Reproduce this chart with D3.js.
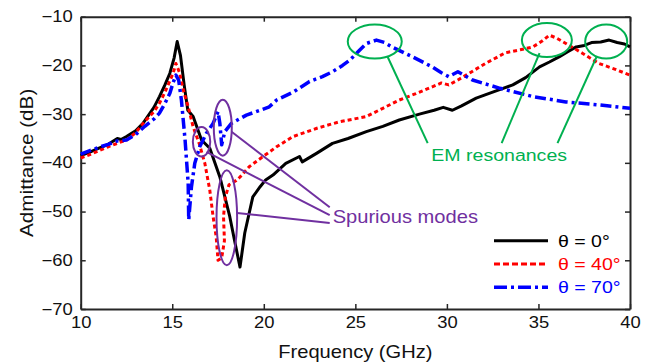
<!DOCTYPE html>
<html>
<head>
<meta charset="utf-8">
<script src="https://cdnjs.cloudflare.com/ajax/libs/d3/7.8.5/d3.min.js"></script>
<style>
  body { margin: 0; background: #fff; }
  svg { display: block; font-family: "Liberation Sans", Arial, sans-serif; }
</style>
</head>
<body>
<div id="chart"></div>
<script>
// --- data (frequency in GHz, admittance in dB) ---
var f0 = [10, 10.5, 11, 11.5, 12, 12.2, 12.5, 13, 13.4, 14, 14.3, 14.6, 14.87, 15.1, 15.27, 15.45, 15.65, 15.85, 16.14,
          16.6, 17.05, 17.6, 18.14, 18.4, 18.7, 18.96, 19.4, 19.8, 20.1, 20.5, 21.2, 21.95, 22.1, 22.9, 23.75, 24.6, 25.6,
          26.5, 27.4, 28.5, 29.3, 29.8, 30.3, 30.8, 31.6, 32.5, 33.6, 34.3, 35.06, 35.6, 36.15, 36.6, 37.06, 37.5, 37.9,
          38.4, 38.86, 39.3, 39.7, 40];
var a0 = [-38.5, -37.8, -37, -36.2, -35, -35.2, -34.6, -33.4, -31.9, -28.6, -26.4, -24, -21.6, -18.5, -15.1, -18, -24, -29.2, -30.5,
          -35.3, -37, -42.9, -51, -55.9, -61.4, -54.4, -47, -44.9, -43.5, -42.5, -40.1, -38.7, -39.8, -38, -36, -35, -33.6,
          -32.5, -31.2, -30, -29.2, -28.6, -29.2, -28.3, -26.7, -25.5, -24, -22.5, -20.3, -19.3, -18.2, -17.2, -16.2, -15.9, -15.3,
          -15.2, -14.8, -15.3, -15.6, -16.2];

var f40 = [10, 10.5, 11, 11.5, 12, 12.5, 13, 13.5, 14, 14.3, 14.6, 15.05, 15.2, 15.4, 15.6, 15.87, 16.14, 16.47, 16.78, 17.05,
           17.23, 17.4, 17.5, 17.7, 17.85, 17.8, 17.9, 18.1, 18.5, 18.7, 19.2, 19.96, 20.7, 21.6, 22.9, 24.1, 25.6, 26.5, 27.4,
           28.3, 29.2, 29.7, 30.1, 30.6, 31.05, 32.1, 33.2, 34.0, 34.7, 35.2, 35.6, 36.0, 36.5, 37.4, 38.3, 39.2, 40];
var a40 = [-39, -38.3, -37.5, -36.7, -36, -35.3, -33.8, -31.5, -29.5, -27.8, -25.5, -21.6, -19.6, -21.5, -25, -28.5, -32.6, -36, -40.1, -45.6,
           -51, -55.2, -60, -59.5, -56, -51, -47, -44.5, -43.6, -42.9, -40.8, -38.7, -36.7, -34.6, -32.9, -31.6, -30.5, -28.8, -27.1,
           -25.8, -24.4, -23.6, -24, -23, -22, -19.6, -17.4, -16.8, -16.2, -15, -13.8, -14.4, -15.5, -17.5, -19.6, -20.8, -22];

var f70 = [10, 10.5, 11, 11.5, 12, 12.5, 13, 13.5, 14, 14.3, 14.6, 14.87, 15.05, 15.2, 15.35, 15.5, 15.7, 15.87, 15.9, 16.05,
           16.23, 16.5, 16.87, 17.23, 17.5, 17.6, 17.7, 17.87, 18.23, 19.05, 19.8, 20.3, 20.7, 21.6, 22.5, 23.2, 23.75, 24.3,
           24.7, 25.2, 25.6, 26.15, 26.6, 27.0, 28.1, 29.2, 29.7, 30.1, 30.6, 31.4, 32.9, 34.7, 36.5, 38.3, 40];
var a70 = [-38.2, -37.5, -36.8, -36.2, -35.5, -35.3, -34.2, -32.5, -31, -29.8, -27.8, -25.7, -23.5, -22, -23, -27.1, -35.3, -44.2, -51.7, -44.9,
           -40.1, -36.7, -33.9, -31.9, -29.5, -31.9, -36.3, -33.6, -31.9, -30.2, -29.2, -28.5, -27.1, -25.5, -23.3, -22.3, -21.3, -20,
           -18.9, -17, -15.5, -14.8, -15.3, -16.2, -18.2, -20.3, -21.5, -22.3, -21.3, -23, -24.7, -26.4, -27.5, -28.1, -28.8];

var seriesNames = ["\u03b8 = 0\u00b0", "\u03b8 = 40\u00b0", "\u03b8 = 70\u00b0"];
var xTicks = [10, 15, 20, 25, 30, 35, 40];
var yTicks = [-70, -60, -50, -40, -30, -20, -10];

// annotation anchors in data units: [freq, dB]
var emCircles = [[26.06, -15.1], [35.46, -14.8], [38.7, -15.1]];
var emLines = [[[26.76, -18.22], [28.95, -35.95]], [[35.06, -17.46], [32.99, -35.95]], [[38.17, -18.28], [36.04, -35.95]]];
var emLabel = [29.15, -39.6];
var spCircles = [[16.6, -35.68], [17.76, -32.77], [17.98, -51.26]];
var spLines = [[[16.87, -37.74], [23.6, -50.74]], [[18.24, -33.63], [23.6, -49.1]], [[18.54, -50.27], [23.6, -52.33]]];
var spLabel = [23.76, -52.4];

function init() {
    var w = 654, h = 362;
    var sx = 1.15;              // the figure's text is slightly stretched horizontally
    var axisColor = "#262626";
    var green = "#00B050", purple = "#7030A0";

    var svg = d3.select("#chart").append("svg")
        .attr("width", w)
        .attr("height", h);

    var x = d3.scaleLinear().domain([10, 40]).range([80.7, 630]);
    var y = d3.scaleLinear().domain([-70, -10]).range([309, 16.7]);

    // axes (ticks point inwards, box on)
    var gx = svg.append("g").attr("transform", "translate(0," + y(-70) + ")")
        .call(d3.axisBottom(x).tickValues(xTicks).tickSizeInner(-5).tickSizeOuter(0).tickPadding(8));
    var gxt = svg.append("g").attr("transform", "translate(0," + y(-10) + ")")
        .call(d3.axisTop(x).tickValues(xTicks).tickSizeInner(-5).tickSizeOuter(0).tickFormat(""));
    var gy = svg.append("g").attr("transform", "translate(" + x(10) + ",0)")
        .call(d3.axisLeft(y).tickValues(yTicks).tickSizeInner(-5).tickSizeOuter(0).tickPadding(8));
    var gyr = svg.append("g").attr("transform", "translate(" + x(40) + ",0)")
        .call(d3.axisRight(y).tickValues(yTicks).tickSizeInner(-5).tickSizeOuter(0).tickFormat(""));

    [gx, gxt, gy, gyr].forEach(function(g) {
        g.select(".domain").attr("stroke", axisColor).attr("stroke-width", 2);
        g.selectAll(".tick line").attr("stroke", axisColor).attr("stroke-width", 1.5);
        g.selectAll("text").attr("fill", "#111").style("font-size", "16px")
            .style("font-family", "'Liberation Sans', Arial, sans-serif");
    });
    gx.selectAll(".tick text").attr("transform", "scale(" + sx + ",1)");
    gy.selectAll(".tick text").attr("x", -8 / sx).attr("transform", "scale(" + sx + ",1)");

    // axis titles
    svg.append("text")
        .attr("transform", "translate(" + (x(10) + x(40)) / 2 + ",358) scale(" + sx + ",1)")
        .attr("text-anchor", "middle")
        .style("font-size", "17.5px")
        .attr("fill", "#111")
        .text("Frequency (GHz)");
    svg.append("text")
        .attr("transform", "translate(33," + (y(-10) + y(-70)) / 2 + ") rotate(-90) scale(" + sx + ",1)")
        .attr("text-anchor", "middle")
        .style("font-size", "18px")
        .attr("fill", "#111")
        .text("Admittance (dB)");

    // curves
    var line = d3.line().x(function(d) { return x(d[0]); }).y(function(d) { return y(d[1]); });
    var styles = [
        { color: "#000000", width: 3, dash: null, legendDash: null },
        { color: "#FF0000", width: 3, dash: "4,3", legendDash: "6,3" },
        { color: "#0000FF", width: 3.5, dash: "11,4,3,4", legendDash: "13,4,3,4" }
    ];
    var series = [d3.zip(f0, a0), d3.zip(f40, a40), d3.zip(f70, a70)];

    // draw blue first, then red, then black on top? reference shows red/blue over black
    [0, 1, 2].forEach(function(i) {
        svg.append("path")
            .datum(series[i])
            .attr("d", line)
            .attr("fill", "none")
            .attr("stroke", styles[i].color)
            .attr("stroke-width", styles[i].width)
            .attr("stroke-linejoin", "round")
            .attr("stroke-dasharray", styles[i].dash);
    });

    // EM resonance annotations
    svg.selectAll(".em-circle").data(emCircles).enter().append("ellipse")
        .attr("cx", function(d) { return x(d[0]); })
        .attr("cy", function(d) { return y(d[1]); })
        .attr("rx", function(d, i) { return [27, 25, 21][i]; })
        .attr("ry", 17)
        .attr("fill", "none").attr("stroke", green).attr("stroke-width", 2);
    svg.selectAll(".em-line").data(emLines).enter().append("line")
        .attr("x1", function(d) { return x(d[0][0]); }).attr("y1", function(d) { return y(d[0][1]); })
        .attr("x2", function(d) { return x(d[1][0]); }).attr("y2", function(d) { return y(d[1][1]); })
        .attr("stroke", green).attr("stroke-width", 2);
    svg.append("text")
        .attr("transform", "translate(" + x(emLabel[0]) + "," + y(emLabel[1]) + ") scale(" + sx + ",1)")
        .style("font-size", "17px")
        .attr("fill", green)
        .text("EM resonances");

    // spurious mode annotations
    svg.selectAll(".sp-circle").data(spCircles).enter().append("ellipse")
        .attr("cx", function(d) { return x(d[0]); })
        .attr("cy", function(d) { return y(d[1]); })
        .attr("rx", function(d, i) { return [8.7, 9, 10.3][i]; })
        .attr("ry", function(d, i) { return [14.7, 28, 47.5][i]; })
        .attr("fill", "none").attr("stroke", purple).attr("stroke-width", 2);
    svg.selectAll(".sp-line").data(spLines).enter().append("line")
        .attr("x1", function(d) { return x(d[0][0]); }).attr("y1", function(d) { return y(d[0][1]); })
        .attr("x2", function(d) { return x(d[1][0]); }).attr("y2", function(d) { return y(d[1][1]); })
        .attr("stroke", purple).attr("stroke-width", 2);
    svg.append("text")
        .attr("transform", "translate(" + x(spLabel[0]) + "," + y(spLabel[1]) + ") scale(" + sx + ",1)")
        .style("font-size", "17.5px")
        .attr("fill", purple)
        .text("Spurious modes");

    // legend
    var legend = svg.append("g").attr("transform", "translate(494,240.7)");
    seriesNames.forEach(function(name, i) {
        var row = legend.append("g").attr("transform", "translate(0," + i * 23.3 + ")");
        row.append("line")
            .attr("x1", 0).attr("x2", 54).attr("y1", 0).attr("y2", 0)
            .attr("stroke", styles[i].color)
            .attr("stroke-width", styles[i].width)
            .attr("stroke-dasharray", styles[i].legendDash);
        row.append("text")
            .attr("transform", "translate(64,6) scale(" + sx + ",1)")
            .style("font-size", "17px")
            .attr("fill", styles[i].color)
            .text(name);
    });
}

window.onload = init;
</script>
</body>
</html>
